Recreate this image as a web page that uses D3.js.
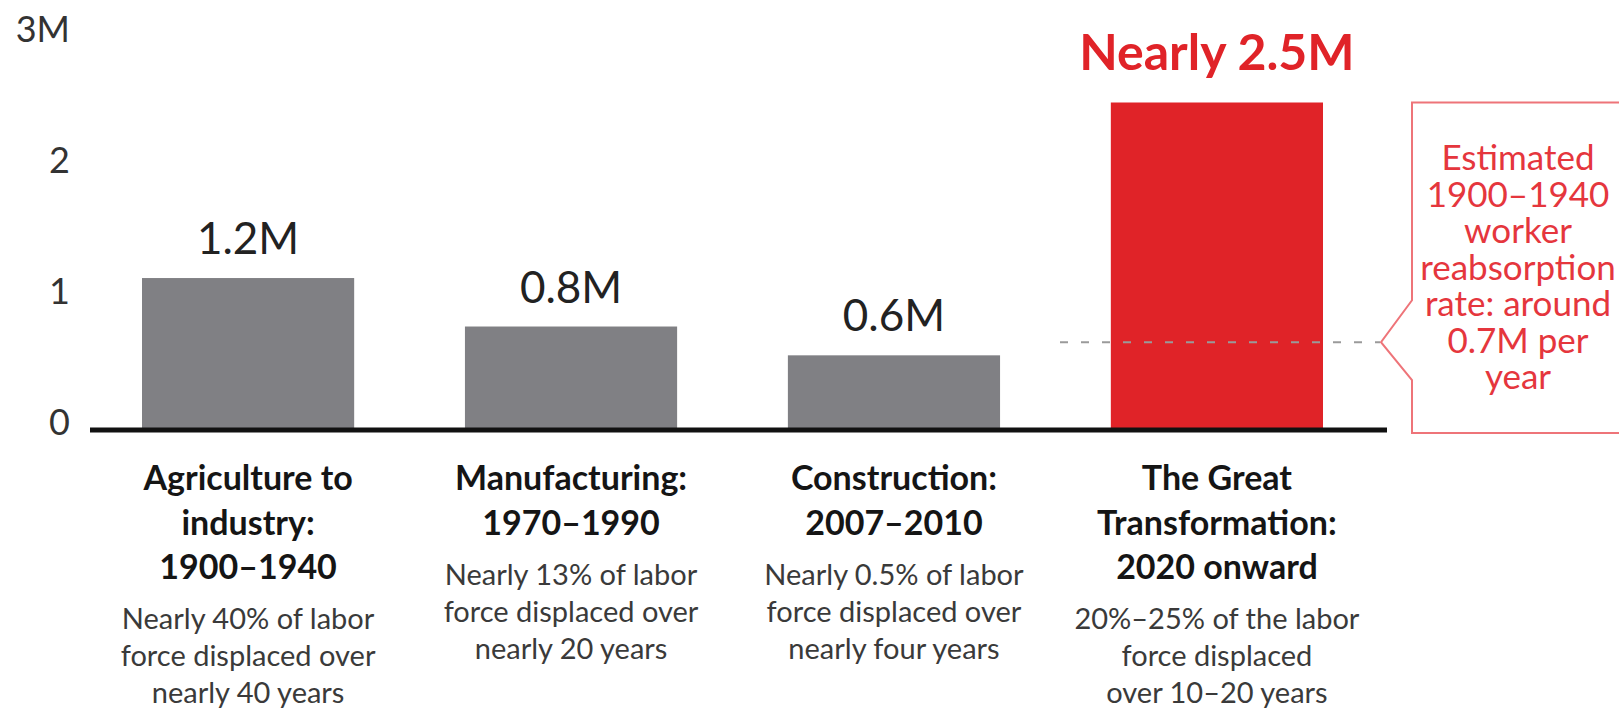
<!DOCTYPE html>
<html>
<head>
<meta charset="utf-8">
<script src="https://cdn.jsdelivr.net/npm/d3@7"></script>
<style>
    html, body { margin: 0; padding: 0; background: #fff; overflow: hidden; }
    svg { display: block; font-family: Lato, "Open Sans", sans-serif; }
</style>
</head>
<body>
<svg id="chart" width="1619" height="710"></svg>
<script>
// Labor displacement waves (millions of workers)
const categories = ["agri", "manu", "cons", "great"];
const values = [1.16, 0.79, 0.57, 2.5];
const valueLabels = ["1.2M", "0.8M", "0.6M", "Nearly 2.5M"];
const titleLines = [
    ["Agriculture to", "industry:", "1900–1940"],
    ["Manufacturing:", "1970–1990"],
    ["Construction:", "2007–2010"],
    ["The Great", "Transformation:", "2020 onward"]
];
const descLines = [
    ["Nearly 40% of labor", "force displaced over", "nearly 40 years"],
    ["Nearly 13% of labor", "force displaced over", "nearly 20 years"],
    ["Nearly 0.5% of labor", "force displaced over", "nearly four years"],
    ["20%–25% of the labor", "force displaced", "over 10–20 years"]
];
const yTicks = [0, 1, 2, 3];
const yTickLabels = ["0", "1", "2", "3M"];
const reabsorptionRate = 0.67;
const calloutLines = ["Estimated", "1900–1940", "worker", "reabsorption", "rate: around", "0.7M per", "year"];

const GRAY = "#808084", RED = "#e02328", CALLOUT = "#ee7479";

const svg = d3.select("#chart");

const x = d3.scaleBand().domain(categories).range([142, 1323]).paddingInner(0.343).paddingOuter(0);
const y = d3.scaleLinear().domain([0, 3]).range([430, 37]);

// y axis labels only
const yAxis = svg.append("g").attr("transform", "translate(70,0)")
    .call(d3.axisLeft(y).tickValues(yTicks).tickFormat((d, i) => yTickLabels[i]).tickSize(0).tickPadding(0));
yAxis.select(".domain").remove();
yAxis.selectAll("text")
    .attr("y", -7).attr("font-family", "Lato, sans-serif")
    .attr("font-size", "36px").attr("fill", "#333");

// bars
svg.selectAll(".bar").data(categories).enter().append("rect")
    .attr("class", "bar")
    .attr("x", d => x(d)).attr("width", x.bandwidth())
    .attr("y", (d, i) => y(values[i]))
    .attr("height", (d, i) => y(0) - y(values[i]))
    .attr("fill", (d, i) => i === 3 ? RED : GRAY);

// value labels
svg.selectAll(".val").data(categories).enter().append("text")
    .attr("class", "val")
    .attr("x", d => x(d) + x.bandwidth() / 2)
    .attr("y", (d, i) => y(values[i]) - (i === 3 ? 33 : 24))
    .attr("text-anchor", "middle")
    .attr("font-size", (d, i) => i === 3 ? "50px" : "44px")
    .attr("font-weight", (d, i) => i === 3 ? 700 : 400)
    .attr("fill", (d, i) => i === 3 ? RED : "#222")
    .text((d, i) => valueLabels[i]);

// reabsorption dashed line
svg.append("line")
    .attr("x1", 1060).attr("x2", 1380)
    .attr("y1", y(reabsorptionRate)).attr("y2", y(reabsorptionRate))
    .attr("stroke", "#9a9a9a").attr("stroke-width", 2).attr("stroke-dasharray", "8,13");

// baseline
svg.append("line")
    .attr("x1", 90).attr("x2", 1387).attr("y1", y(0)).attr("y2", y(0))
    .attr("stroke", "#111").attr("stroke-width", 5);

// category titles + descriptions
const cat = svg.selectAll(".cat").data(categories).enter().append("g")
    .attr("class", "cat")
    .attr("transform", d => `translate(${x(d) + x.bandwidth() / 2},0)`);

cat.each(function(d, i) {
    const g = d3.select(this);
    const tl = titleLines[i];
    g.selectAll(".tl").data(tl).enter().append("text")
        .attr("class", "tl")
        .attr("y", (t, j) => 490 + j * 44.5)
        .attr("text-anchor", "middle").attr("font-size", "34px").attr("font-weight", 700)
        .attr("fill", "#151515").text(t => t);
    const d0 = 490 + (tl.length - 1) * 44.5 + 50;
    g.selectAll(".dl").data(descLines[i]).enter().append("text")
        .attr("class", "dl")
        .attr("y", (t, j) => d0 + j * 37)
        .attr("text-anchor", "middle").attr("font-size", "29px")
        .attr("fill", "#3a3a3a").text(t => t);
});

// callout box with pointer
const boxX = 1412, tipX = 1381, tipY = y(reabsorptionRate);
const boxTop = y(values[3]), boxBot = y(0) + 3;
svg.append("path")
    .attr("d", `M${boxX},${boxTop} H1660 V${boxBot} H${boxX} V${tipY + 38} L${tipX},${tipY} L${boxX},${tipY - 42} Z`)
    .attr("fill", "#fff").attr("stroke", CALLOUT).attr("stroke-width", 2);

svg.append("g").selectAll("text").data(calloutLines).enter().append("text")
    .attr("x", 1518).attr("y", (t, j) => 170 + j * 36.5)
    .attr("text-anchor", "middle").attr("font-size", "35px")
    .attr("fill", "#e5363d").text(t => t);
</script>
</body>
</html>
